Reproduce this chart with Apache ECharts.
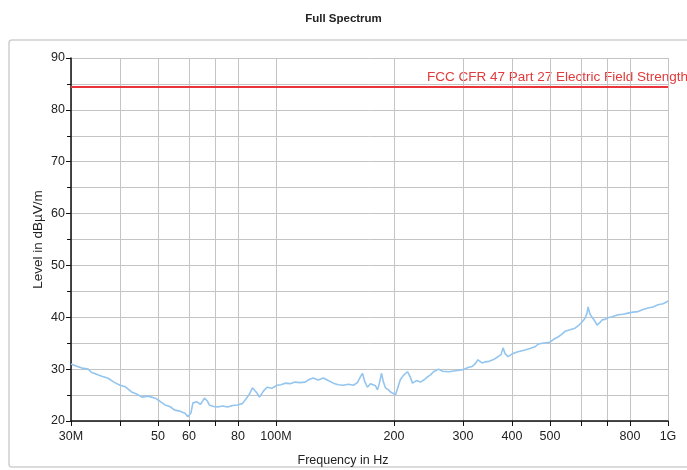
<!DOCTYPE html>
<html>
<head>
<meta charset="utf-8">
<script src="https://cdn.jsdelivr.net/npm/echarts@6/dist/echarts.min.js"></script>
<style>html,body{margin:0;padding:0;background:#fff}#c{width:687px;height:470px}</style>
</head>
<body>
<div id="c"></div>
<script>
const freqMHz = [30.0,30.2,30.9,32.0,33.2,33.8,35.1,36.1,37.2,38.6,40.0,41.3,42.8,44.1,45.5,47.2,49.2,50.6,52.1,53.6,55.2,56.9,58.6,59.6,60.7,61.4,62.9,64.2,65.7,66.9,67.6,69.3,71.0,73.1,75.3,77.5,79.8,82.2,84.1,85.6,87.1,89.2,90.8,93.0,94.9,97.6,100.6,103.0,105.5,108.6,111.9,115.2,118.7,121.5,124.4,128.1,132.0,135.9,140.0,144.2,148.5,153.0,157.6,161.3,164.2,166.2,168.1,171.1,174.2,176.2,179.4,181.5,183.6,185.8,188.0,190.2,193.6,195.9,199.3,201.7,204.1,207.7,211.4,216.5,220.3,223.0,228.3,233.7,239.3,243.5,247.9,252.3,259.8,265.9,275.5,287.1,300.0,308.9,316.3,321.9,327.6,335.4,341.4,349.5,357.8,368.5,375.1,379.5,384.0,390.8,400.0,412.0,421.7,431.8,444.6,457.9,466.0,477.1,488.4,500.0,511.8,523.9,533.5,546.2,562.5,579.2,593.0,603.6,614.3,621.6,625.3,632.7,640.2,651.5,659.2,671.0,678.9,690.9,703.2,719.9,745.7,767.9,790.8,814.4,838.6,863.6,889.3,915.8,943.0,971.2,994.2,1000];
const levelDb = [31.0,31.2,30.6,30.2,30.0,29.4,28.9,28.6,28.3,27.5,26.9,26.6,25.6,25.2,24.6,24.8,24.4,23.8,23.1,22.8,22.1,21.9,21.5,20.8,21.6,23.5,23.7,23.2,24.4,23.8,23.1,22.8,22.7,22.9,22.7,23.0,23.1,23.4,24.4,25.2,26.4,25.5,24.6,25.8,26.5,26.3,26.9,27.0,27.3,27.2,27.5,27.4,27.5,28.0,28.3,27.9,28.3,27.8,27.3,27.0,26.9,27.1,26.9,27.4,28.5,29.2,27.8,26.5,27.2,27.5,26.8,26.0,27.3,29.2,27.5,26.4,26.0,25.6,25.3,25.0,26.2,28.0,28.8,29.5,28.4,27.3,27.8,27.5,28.0,28.5,28.9,29.5,30.0,29.6,29.5,29.7,29.9,30.3,30.5,31.0,31.8,31.2,31.4,31.5,31.8,32.4,32.8,34.1,33.0,32.4,32.9,33.3,33.5,33.7,34.0,34.3,34.8,35.0,35.1,35.2,35.8,36.2,36.6,37.3,37.6,37.9,38.5,39.1,39.8,40.8,42.0,40.6,40.0,39.2,38.5,39.0,39.5,39.6,39.9,40.1,40.5,40.6,40.8,41.0,41.1,41.5,41.8,42.0,42.4,42.6,43.0,43.2];
const limitDb = 84.5;
const limitName = 'FCC CFR 47 Part 27 Electric Field Strength';
const xTickValues = [30,40,50,60,70,80,100,200,300,400,500,600,700,800,1000];
const xLabelValues = [30,50,60,80,100,200,300,400,500,800,1000];
const xLabelTexts = ['30M','50','60','80','100M','200','300','400','500','800','1G'];

const chart = echarts.init(document.getElementById('c'));
const fontFamily = 'Liberation Sans, Arial, sans-serif';
chart.setOption({
  animation: false,
  backgroundColor: '#fff',
  title: {
    text: 'Full Spectrum', left: 'center', top: 8,
    textStyle: {fontSize: 11.5, fontWeight: 'bold', color: '#222', fontFamily: 'Liberation Sans Narrow, Liberation Sans, Arial, sans-serif'}
  },
  graphic: [
    {type: 'rect', shape: {x: 9, y: 40, width: 700, height: 427, r: 3}, style: {fill: 'none', stroke: '#cfcfcf', lineWidth: 1.5}, z: -1},
    {type: 'text', x: 343, y: 461, style: {text: 'Frequency in Hz', fill: '#222', font: '12.5px ' + fontFamily, textAlign: 'center', textVerticalAlign: 'middle'}},
    {type: 'text', x: 427, y: 77, style: {text: limitName, fill: '#e23a3a', font: '13.5px ' + fontFamily, textVerticalAlign: 'middle'}}
  ],
  grid: {left: 71, right: 19, top: 58, bottom: 49},
  xAxis: {
    type: 'log', logBase: 10, min: 30, max: 1000,
    axisLine: {lineStyle: {color: '#111', width: 1.5}},
    axisTick: {show: true, customValues: xTickValues, length: 5, lineStyle: {color: '#111'}},
    axisLabel: {
      customValues: xLabelValues, color: '#222', fontSize: 12.5, fontFamily, margin: 9,
      formatter: function (v) {
        let best = 0, d = Infinity;
        xLabelValues.forEach((x, i) => { const dd = Math.abs(Math.log(x) - Math.log(v)); if (dd < d) { d = dd; best = i; } });
        return xLabelTexts[best];
      }
    },
    splitLine: {show: true, lineStyle: {color: '#c4c4c4', width: 1}},
    minorTick: {show: false}, minorSplitLine: {show: false}
  },
  yAxis: {
    type: 'value', min: 20, max: 90, interval: 10,
    name: 'Level in dBµV/m', nameLocation: 'middle', nameGap: 26, nameMoveOverlap: false,
    nameTextStyle: {color: '#222', fontSize: 13.5, fontFamily},
    axisLine: {show: true, lineStyle: {color: '#111', width: 1.5}},
    axisTick: {show: true, length: 5, lineStyle: {color: '#111'}},
    minorTick: {show: true, splitNumber: 2, length: 4, lineStyle: {color: '#111'}},
    axisLabel: {color: '#222', fontSize: 12.5, fontFamily, margin: 6},
    splitLine: {show: true, lineStyle: {color: '#c4c4c4', width: 1}},
    minorSplitLine: {show: true, lineStyle: {color: '#c4c4c4', width: 1}}
  },
  series: [{
    type: 'line',
    data: freqMHz.map((f, i) => [f, levelDb[i]]),
    showSymbol: false,
    lineStyle: {color: '#94c5ef', width: 1.6},
    markLine: {
      silent: true, symbol: 'none', label: {show: false},
      lineStyle: {color: '#e8343a', width: 2, type: 'solid'},
      data: [{yAxis: limitDb}]
    }
  }]
});
</script>
</body>
</html>
